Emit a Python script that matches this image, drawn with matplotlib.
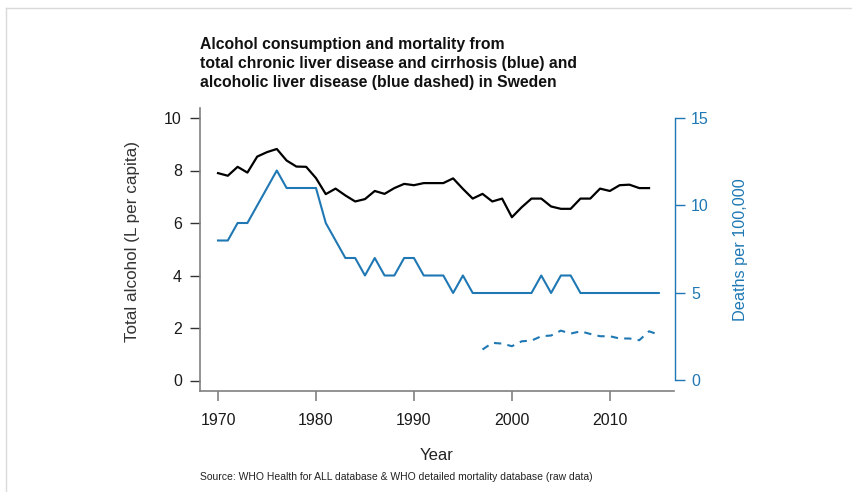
import matplotlib
matplotlib.use("Agg")
import matplotlib.pyplot as plt
from matplotlib.lines import Line2D

plt.rcParams['font.family'] = ['Liberation Sans', 'DejaVu Sans']

years_alc = list(range(1970, 2015))
alcohol = [7.9, 7.8, 8.14, 7.92, 8.53, 8.7, 8.82, 8.38, 8.15, 8.14,
           7.71, 7.1, 7.31, 7.05, 6.82, 6.91, 7.22, 7.11, 7.33, 7.49,
           7.44, 7.52, 7.52, 7.52, 7.7, 7.3, 6.93, 7.11, 6.82, 6.93,
           6.22, 6.6, 6.93, 6.93, 6.63, 6.54, 6.54, 6.93, 6.93, 7.31,
           7.22, 7.44, 7.46, 7.33, 7.33]

years_cir = list(range(1970, 2016))
cirrhosis = [8, 8, 9, 9, 10, 11, 12, 11, 11, 11,
             11, 9, 8, 7, 7, 6, 7, 6, 6, 7,
             7, 6, 6, 6, 5, 6, 5, 5, 5, 5,
             5, 5, 5, 6, 5, 6, 6, 5, 5, 5,
             5, 5, 5, 5, 5, 5]

years_ald = list(range(1997, 2016))
alcoholic = [1.77, 2.15, 2.11, 1.96, 2.24, 2.28, 2.53, 2.57, 2.85, 2.68,
             2.81, 2.66, 2.53, 2.53, 2.40, 2.40, 2.30, 2.81, 2.62]

left_ticks = [0, 2, 4, 6, 8, 10]
right_ticks = [0, 5, 10, 15]
x_ticks = [1970, 1980, 1990, 2000, 2010]

title = ("Alcohol consumption and mortality from\n"
         "total chronic liver disease and cirrhosis (blue) and\n"
         "alcoholic liver disease (blue dashed) in Sweden")
source = "Source: WHO Health for ALL database & WHO detailed mortality database (raw data)"

BLUE = '#1f78b4'
GRAY = '#808080'
W, H = 852, 492

fig = plt.figure(figsize=(W / 100, H / 100), dpi=100)
ax = fig.add_axes([200 / W, 1 - 391 / H, 474.5 / W, (391 - 107.5) / H])
ax2 = ax.twinx()

ax.plot(years_alc, alcohol, color='black', lw=1.6, solid_joinstyle='round')
ax2.plot(years_cir, cirrhosis, color=BLUE, lw=1.5, solid_joinstyle='round')
ax2.plot(years_ald, alcoholic, color=BLUE, lw=1.5, dashes=(3.5, 3))

ax.set_xlim(1968.16, 2016.6)
ax.set_ylim(-0.4, 10.4)
ax2.set_ylim(-0.6, 15.6)

for a in (ax, ax2):
    for s in a.spines.values():
        s.set_visible(False)

ax.spines['left'].set_visible(True)
ax.spines['bottom'].set_visible(True)
ax.spines['left'].set_color(GRAY)
ax.spines['bottom'].set_color(GRAY)
ax.spines['left'].set_linewidth(1.2)
ax.spines['bottom'].set_linewidth(1.2)

ax.set_yticks(left_ticks)
ax.set_xticks(x_ticks)
ax.tick_params(axis='y', direction='out', length=7, width=1, color='#333333',
               labelsize=11.5, pad=6, labelcolor='#1a1a1a')
ax.tick_params(axis='x', direction='out', length=7, width=1.2, color=GRAY,
               labelsize=11.5, pad=9, labelcolor='#1a1a1a')

ax2.set_yticks(right_ticks)
ax2.tick_params(axis='y', direction='out', length=7, width=1, color=BLUE,
                labelsize=11.5, pad=5, labelcolor=BLUE)
ax2.spines['right'].set_visible(True)
ax2.spines['right'].set_color(BLUE)
ax2.spines['right'].set_bounds(0, 15)
ax2.spines['right'].set_linewidth(1)

fig.text(200 / W, 1 - 37 / H, title, ha='left', va='top', fontsize=11.3,
         fontweight='bold', linespacing=1.33, color='#111111')
fig.text(133 / W, 1 - 242 / H, "Total alcohol (L per capita)", rotation=90,
         ha='center', va='center', fontsize=12.3, color='#333333')
fig.text(740 / W, 1 - 250 / H, "Deaths per 100,000", rotation=90,
         ha='center', va='center', fontsize=11.7, color=BLUE)
fig.text(437 / W, 1 - 456 / H, "Year", ha='center', va='center', fontsize=12,
         color='#222222')
fig.text(200 / W, 1 - 477 / H, source, ha='left', va='center', fontsize=7.5,
         color='#222222')

fig.add_artist(Line2D([6 / W, 1], [1 - 8 / H, 1 - 8 / H], color='#d9d9d9',
                      lw=1, transform=fig.transFigure))
fig.add_artist(Line2D([6 / W, 6 / W], [0, 1 - 8 / H], color='#d9d9d9',
                      lw=1, transform=fig.transFigure))

fig.savefig('out.png', dpi=100)
